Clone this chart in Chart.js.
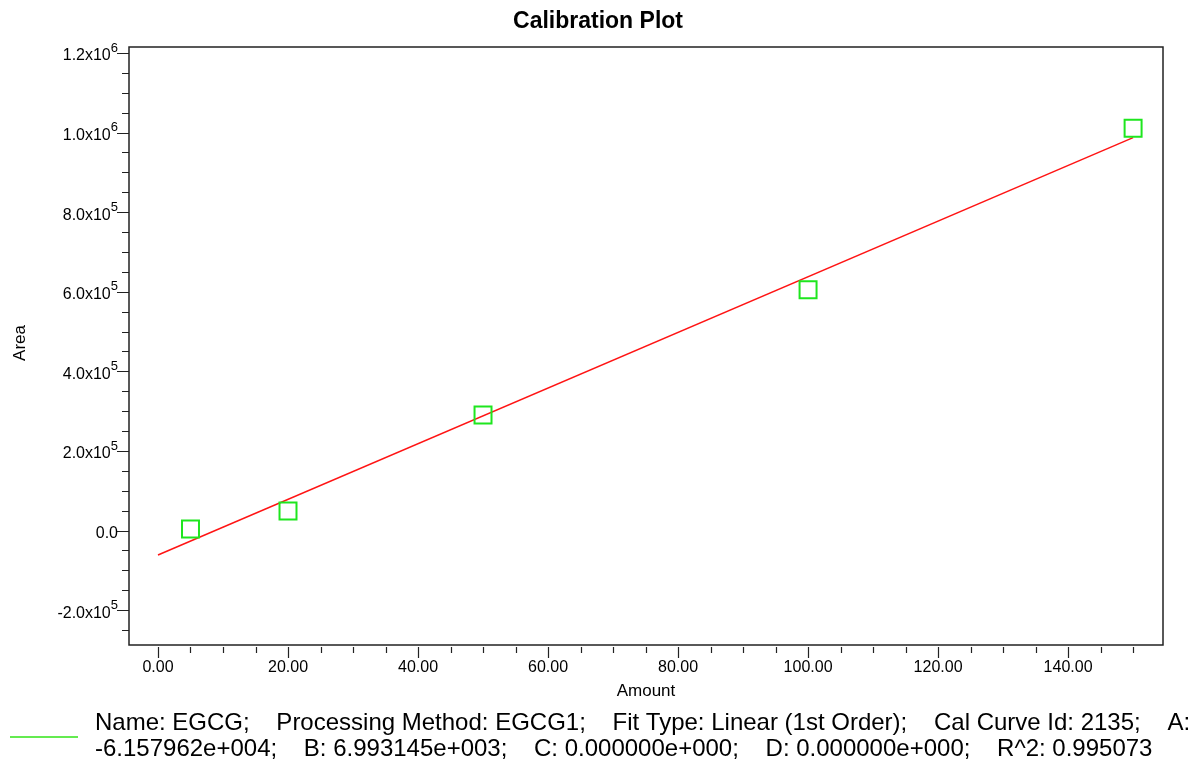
<!DOCTYPE html>
<html>
<head>
<meta charset="utf-8">
<script src="https://cdn.jsdelivr.net/npm/chart.js@4.4.1/dist/chart.umd.min.js"></script>
<style>
  html, body { margin: 0; padding: 0; background: #fff; }
  #wrap { width: 1198px; height: 762px; position: relative; }
</style>
</head>
<body>
<div id="wrap"><canvas id="myChart" width="1198" height="762"></canvas></div>
<script>
// data
const amounts = [5, 20, 50, 100, 150];
const areas = [4000, 49400, 290500, 605000, 1011200];

// fitted line end points (A = -6.157962e+004, B = 6.993145e+003)
const fitAmounts = [0, 150];
const fitAreas = [-61580, 987392];

const xTicks = [0, 20, 40, 60, 80, 100, 120, 140];
const xTickLabels = ['0.00', '20.00', '40.00', '60.00', '80.00', '100.00', '120.00', '140.00'];
const yTicks = [-200000, 0, 200000, 400000, 600000, 800000, 1000000, 1200000];
const yTickBase = ['-2.0x10', '0.0', '2.0x10', '4.0x10', '6.0x10', '8.0x10', '1.0x10', '1.2x10'];
const yTickExp = ['5', '', '5', '5', '5', '5', '6', '6'];

const titleText = 'Calibration Plot';
const xTitle = 'Amount';
const yTitle = 'Area';
const legendLines = [
    'Name: EGCG;    Processing Method: EGCG1;    Fit Type: Linear (1st Order);    Cal Curve Id: 2135;    A:',
    '-6.157962e+004;    B: 6.993145e+003;    C: 0.000000e+000;    D: 0.000000e+000;    R^2: 0.995073'
];

const FONT = "'Liberation Sans', Arial, sans-serif";
const GREEN = 'rgb(30, 230, 30)';

const decorPlugin = {
    id: 'decor',
    afterDraw(chart) {
        const ctx = chart.ctx;
        const area = chart.chartArea;
        const xs = chart.scales.x;
        const ys = chart.scales.y;
        ctx.save();

        // box round the plot
        ctx.strokeStyle = '#222';
        ctx.lineWidth = 1.5;
        ctx.strokeRect(area.left, area.top, area.right - area.left, area.bottom - area.top);

        // x ticks (below, with small gap)
        ctx.lineWidth = 1.2;
        ctx.beginPath();
        for (let v = 0; v <= 150; v += 5) {
            const px = Math.round(xs.getPixelForValue(v)) + 0.5;
            const major = v % 20 == 0;
            ctx.moveTo(px, area.bottom + 2);
            ctx.lineTo(px, area.bottom + (major ? 13 : 8));
        }
        // y ticks
        for (let v = -250000; v <= 1200000; v += 50000) {
            const py = Math.round(ys.getPixelForValue(v)) + 0.5;
            const major = v % 200000 == 0;
            ctx.moveTo(area.left, py);
            ctx.lineTo(area.left - (major ? 12 : 7), py);
        }
        ctx.stroke();

        // tick labels
        ctx.fillStyle = '#000';
        ctx.font = '16px ' + FONT;
        ctx.textAlign = 'center';
        ctx.textBaseline = 'middle';
        for (let i = 0; i < xTicks.length; i++) {
            ctx.fillText(xTickLabels[i], xs.getPixelForValue(xTicks[i]), area.bottom + 23);
        }
        ctx.textAlign = 'left';
        for (let i = 0; i < yTicks.length; i++) {
            const py = ys.getPixelForValue(yTicks[i]);
            ctx.font = '16px ' + FONT;
            const w1 = ctx.measureText(yTickBase[i]).width;
            ctx.font = '13px ' + FONT;
            const w2 = yTickExp[i] ? ctx.measureText(yTickExp[i]).width : 0;
            const x0 = 118 - w1 - w2;
            ctx.font = '16px ' + FONT;
            ctx.fillText(yTickBase[i], x0, py + 3);
            if (yTickExp[i]) {
                ctx.font = '13px ' + FONT;
                ctx.fillText(yTickExp[i], x0 + w1, py - 5);
            }
        }

        // titles
        ctx.textAlign = 'center';
        ctx.font = 'bold 23px ' + FONT;
        ctx.fillText(titleText, 598, 22);
        ctx.font = '17px ' + FONT;
        ctx.fillText(xTitle, (area.left + area.right) / 2, 691);
        ctx.save();
        ctx.translate(20, 343);
        ctx.rotate(-Math.PI / 2);
        ctx.fillText(yTitle, 0, 0);
        ctx.restore();

        // legend
        ctx.strokeStyle = 'rgb(100, 235, 80)';
        ctx.lineWidth = 2;
        ctx.beginPath();
        ctx.moveTo(10, 737);
        ctx.lineTo(78, 737);
        ctx.stroke();
        ctx.textAlign = 'left';
        ctx.textBaseline = 'alphabetic';
        ctx.font = '24px ' + FONT;
        ctx.fillText(legendLines[0], 95, 730);
        ctx.fillText(legendLines[1], 95, 756);

        ctx.restore();
    }
};

const CHART = document.getElementById('myChart');
const wykres = new Chart(CHART, {
    type: 'scatter',
    data: {
        datasets: [
            {
                label: 'EGCG',
                data: amounts.map((a, i) => ({ x: a, y: areas[i] })),
                pointStyle: 'rect',
                pointRadius: 12,
                pointHoverRadius: 12,
                pointBorderWidth: 2,
                borderColor: GREEN,
                backgroundColor: 'rgba(0,0,0,0)'
            },
            {
                label: 'fit',
                type: 'line',
                data: fitAmounts.map((a, i) => ({ x: a, y: fitAreas[i] })),
                borderColor: 'rgb(255, 20, 20)',
                borderWidth: 1.5,
                pointRadius: 0,
                fill: false,
                tension: 0
            }
        ]
    },
    options: {
        responsive: false,
        animation: false,
        events: [],
        layout: { padding: { top: 47, right: 35, left: 0, bottom: 0 } },
        plugins: {
            legend: { display: false },
            title: { display: false },
            tooltip: { enabled: false }
        },
        scales: {
            x: {
                type: 'linear',
                min: -4.46,
                max: 154.6,
                ticks: { display: false },
                grid: { display: false, drawTicks: false },
                border: { display: false },
                afterFit: (s) => { s.height = 117; }
            },
            y: {
                type: 'linear',
                min: -287600,
                max: 1215100,
                ticks: { display: false },
                grid: { display: false, drawTicks: false },
                border: { display: false },
                afterFit: (s) => { s.width = 129; }
            }
        }
    },
    plugins: [decorPlugin]
});
</script>
</body>
</html>
